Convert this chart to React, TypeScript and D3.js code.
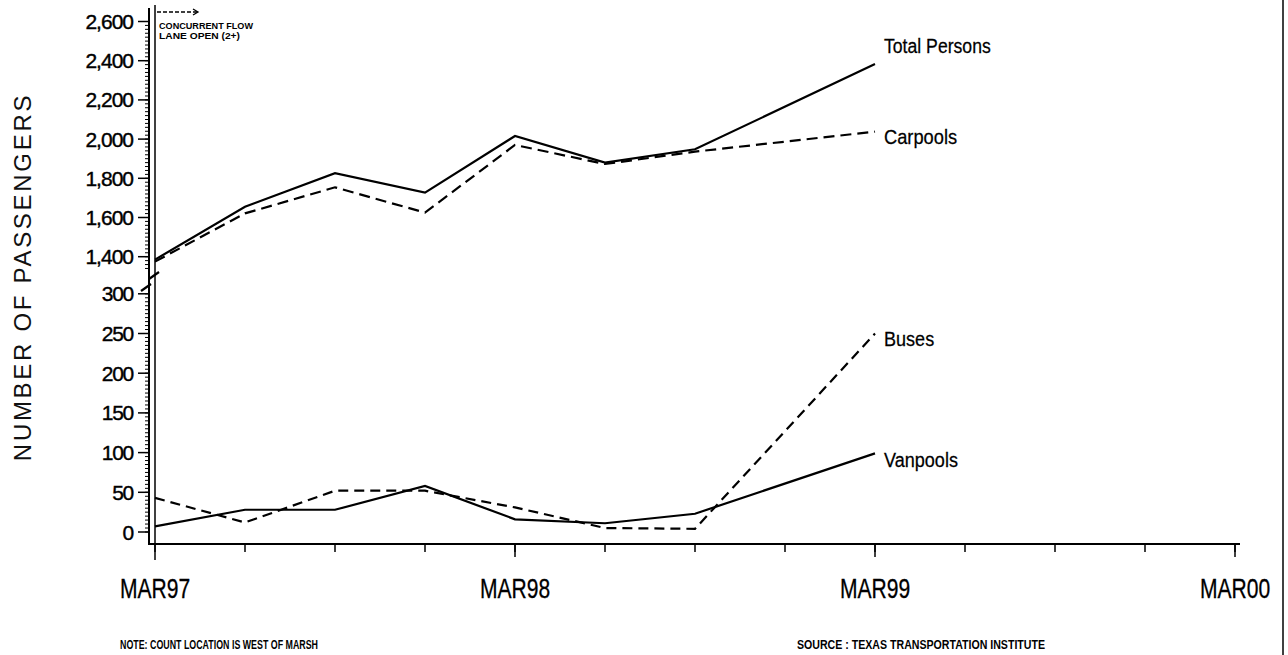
import React from "react";
import * as d3 from "d3";

// ---- data ----
const monthIdx = [0, 3, 6, 9, 12, 15, 18, 24]; // months after MAR97
const totalPersons = [1385, 1655, 1826, 1727, 2016, 1880, 1948, 2383];
const carpools = [1375, 1621, 1754, 1625, 1970, 1873, 1936, 2038];
const buses = [43, 12, 52, 52, 31, 5, 4, 250];
const vanpools = [7, 28, 28, 58, 16, 11, 23, 99];
const xTickLabels = ["MAR97", "MAR98", "MAR99", "MAR00"];
const upperTicks = [1400, 1600, 1800, 2000, 2200, 2400, 2600];
const lowerTicks = [0, 50, 100, 150, 200, 250, 300];

const FONT = "'Liberation Sans', Arial, Helvetica, sans-serif";

export default function App() {
  const W = 1288, H = 655;
  const x = d3.scaleLinear().domain([0, 36]).range([155, 1235]);
  const yU = d3.scaleLinear().domain([1400, 2600]).range([256.7, 21.5]);
  const yL = d3.scaleLinear().domain([0, 300]).range([532, 293.8]);
  const axisX = 149;
  const axisY = 544;

  const lineU = d3.line<number>().x((_, i) => x(monthIdx[i])).y((d) => yU(d));
  const lineL = d3.line<number>().x((_, i) => x(monthIdx[i])).y((d) => yL(d));

  const series = [
    { name: "Total Persons", data: totalPersons, line: lineU, y: yU, dash: undefined as string | undefined, dy: -11, sx: 0.84 },
    { name: "Carpools", data: carpools, line: lineU, y: yU, dash: "11,6", dy: 12, sx: 0.87 },
    { name: "Buses", data: buses, line: lineL, y: yL, dash: "10,6", dy: 12, sx: 0.86 },
    { name: "Vanpools", data: vanpools, line: lineL, y: yL, dash: undefined, dy: 14, sx: 0.86 },
  ];

  const minorU: number[] = [];
  for (let v = 1340; v <= 2600; v += 20) minorU.push(v);
  const minorL: number[] = [];
  for (let v = 0; v <= 300; v += 5) minorL.push(v);

  const xMinor = d3.range(0, 37, 3);
  const xMajor = [0, 12, 24, 36];

  return (
    <svg width={W} height={H} style={{ position: "absolute", left: 0, top: 0, background: "#fff" }}>
      <rect x={0} y={0} width={W} height={H} fill="#fff" />
      {/* y axis title */}
      <text
        transform="translate(31,277) rotate(-90)"
        textAnchor="middle"
        fontFamily={FONT}
        fontSize={24}
        letterSpacing={2.7}
        fill="#111"
      >
        NUMBER OF PASSENGERS
      </text>

      {/* y axis */}
      <line x1={axisX} x2={axisX} y1={8} y2={axisY} stroke="#000" strokeWidth={2} />
      {minorU.map((v) => (
        <line key={"mu" + v} x1={axisX - 4} x2={axisX} y1={yU(v)} y2={yU(v)} stroke="#000" strokeWidth={1} />
      ))}
      {minorL.map((v) => (
        <line key={"ml" + v} x1={axisX - 4} x2={axisX} y1={yL(v)} y2={yL(v)} stroke="#000" strokeWidth={1} />
      ))}
      {upperTicks.map((v) => (
        <g key={"tu" + v}>
          <line x1={axisX - 11} x2={axisX} y1={yU(v)} y2={yU(v)} stroke="#000" strokeWidth={1.5} />
          <text x={133} y={yU(v) + 7.5} textAnchor="end" fontFamily={FONT} fontSize={21} letterSpacing={-1} stroke="#000" strokeWidth={0.4} fill="#000">
            {d3.format(",")(v)}
          </text>
        </g>
      ))}
      {lowerTicks.map((v) => (
        <g key={"tl" + v}>
          <line x1={axisX - 11} x2={axisX} y1={yL(v)} y2={yL(v)} stroke="#000" strokeWidth={1.5} />
          <text x={133} y={yL(v) + 7.5} textAnchor="end" fontFamily={FONT} fontSize={21} letterSpacing={-1.3} stroke="#000" strokeWidth={0.4} fill="#000">
            {String(v)}
          </text>
        </g>
      ))}

      {/* axis break marks */}
      <line x1={141} y1={291} x2={151} y2={284} stroke="#000" strokeWidth={2.2} />
      <line x1={149} y1={279} x2={159} y2={272} stroke="#000" strokeWidth={2.2} />

      {/* x axis */}
      <line x1={axisX - 1} x2={1240} y1={axisY} y2={axisY} stroke="#000" strokeWidth={2} />
      {xMinor.map((m) => (
        <line key={"xm" + m} x1={x(m)} x2={x(m)} y1={axisY} y2={axisY + 8} stroke="#000" strokeWidth={1.5} />
      ))}
      {xMajor.map((m, i) => (
        <g key={"xM" + m}>
          <line x1={x(m)} x2={x(m)} y1={axisY} y2={axisY + (i === 0 ? 16 : 13)} stroke="#000" strokeWidth={1.5} />
          <text
            transform={`translate(${x(m)},598) scale(0.78,1)`}
            textAnchor="middle"
            fontFamily={FONT}
            fontSize={27}
            fill="#000"
            stroke="#000"
            strokeWidth={0.3}
          >
            {xTickLabels[i]}
          </text>
        </g>
      ))}

      {/* concurrent flow marker */}
      <line x1={x(0)} x2={x(0)} y1={5} y2={axisY} stroke="#000" strokeWidth={1.5} />
      <line x1={157} x2={197} y1={12} y2={12} stroke="#000" strokeWidth={1.3} strokeDasharray="4,2" />
      <polyline points="193,9 198,12 193,15" fill="none" stroke="#000" strokeWidth={1.3} />
      <text x={159} y={29} fontFamily={FONT} fontSize={9.5} fontWeight="bold" textLength={94} lengthAdjust="spacingAndGlyphs" fill="#000">
        CONCURRENT FLOW
      </text>
      <text x={159} y={38.5} fontFamily={FONT} fontSize={9.5} fontWeight="bold" textLength={81} lengthAdjust="spacingAndGlyphs" fill="#000">
        LANE OPEN (2+)
      </text>

      {/* series */}
      {series.map((s) => (
        <g key={s.name}>
          <path d={s.line(s.data) || ""} fill="none" stroke="#000" strokeWidth={2.2} strokeDasharray={s.dash} />
          <text
            transform={`translate(${x(monthIdx[monthIdx.length - 1]) + 9},${s.y(s.data[s.data.length - 1]) + s.dy}) scale(${s.sx},1)`}
            fontFamily={FONT}
            fontSize={21}
            fill="#000"
            stroke="#000"
            strokeWidth={0.25}
          >
            {s.name}
          </text>
        </g>
      ))}

      {/* footnotes */}
      <text x={120} y={649} fontFamily={FONT} fontSize={13.5} fontWeight="bold" textLength={198} lengthAdjust="spacingAndGlyphs" fill="#000">
        NOTE: COUNT LOCATION IS WEST OF MARSH
      </text>
      <text x={797} y={649} fontFamily={FONT} fontSize={13.5} fontWeight="bold" textLength={248} lengthAdjust="spacingAndGlyphs" fill="#000">
        SOURCE : TEXAS TRANSPORTATION INSTITUTE
      </text>

      {/* page edge */}
      <line x1={1283} x2={1283} y1={0} y2={H} stroke="#000" strokeWidth={1.5} />
    </svg>
  );
}
